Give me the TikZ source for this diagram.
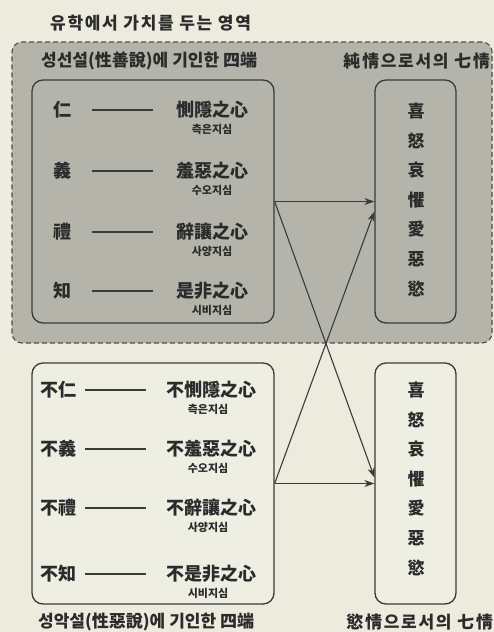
\documentclass[tikz,border=0pt]{standalone}
\usepackage{fontspec}
\setmainfont{Noto Sans CJK KR}
\usetikzlibrary{arrows.meta,calc}
\definecolor{bg}{HTML}{ECEBDE}
\definecolor{zonefill}{HTML}{B5B4AA}
\definecolor{ink}{HTML}{2B2B2B}
\definecolor{edge}{HTML}{3A3A3A}
\definecolor{lowfill}{HTML}{EFEEE3}
\begin{document}
\begin{tikzpicture}[x=1pt,y=-1pt,
  zonebox/.style={draw=edge!90,fill=zonefill,line width=1.1pt,dash pattern=on 5pt off 3pt,rounded corners=10pt,inner sep=0pt},
  box/.style={draw=edge,line width=1.3pt,rounded corners=11pt,inner sep=0pt},
  lbl/.style={font=\fontsize{17}{19}\selectfont\bfseries,text=ink,inner sep=0pt},
  widelbl/.style={font=\fontsize{17}{19}\selectfont\bfseries\addfontfeature{LetterSpace=10},text=ink,inner sep=0pt},
  han/.style={font=\fontsize{18}{20}\selectfont\bfseries,text=ink,inner sep=0pt},
  subtxt/.style={font=\fontsize{11}{13}\selectfont\bfseries,text=ink,inner sep=0pt},
  emo/.style={font=\fontsize{17}{19}\selectfont\bfseries,text=ink,inner sep=0pt},
  rule/.style={draw=edge,line width=1.2pt},
  arr/.style={draw=edge,line width=1.1pt,-{Stealth[length=10pt,width=7pt]}}]
\useasboundingbox[fill=bg] (0,0) rectangle (494,632);
% grey dashed zone
\node[zonebox,minimum width=480pt,minimum height=301pt] (zone) at (252,192.5) {};
% boxes
\node[box,fill=zonefill,minimum width=242pt,minimum height=243pt] (L1) at (153,201.5) {};
\node[box,fill=zonefill,minimum width=81pt,minimum height=243pt] (R1) at (415.5,201.5) {};
\node[box,fill=lowfill,minimum width=242pt,minimum height=241pt] (L2) at (153,483.5) {};
\node[box,fill=lowfill,minimum width=81pt,minimum height=241pt] (R2) at (415.5,483.5) {};
% labels
\node[widelbl,anchor=west] (title) at (50,23) {유학에서 가치를 두는 영역};
\node[lbl,anchor=west] (tl) at (41,61) {성선설(性善說)에 기인한 四端};
\node[widelbl,anchor=east] (tr) at (490,61) {純情으로서의 七情};
\node[lbl,anchor=west] (bl) at (38,622) {성악설(性惡說)에 기인한 四端};
\node[widelbl,anchor=east] (br) at (493,622) {慾情으로서의 七情};
% top rows
\foreach \i/\c/\t/\s/\y in {1/仁/惻隱之心/측은지심/110, 2/義/羞惡之心/수오지심/171, 3/禮/辭讓之心/사양지심/232, 4/知/是非之心/시비지심/291}{
  \node[han] (a\i) at (62,\y) {\c};
  \node[han] (b\i) at (212,\y) {\t};
  \node[subtxt] (s\i) at (212,\y+19) {\s};
  \draw[rule,shorten <=30pt,shorten >=59pt] (a\i.center) -- (b\i.center);
}
% bottom rows
\foreach \i/\c/\t/\s/\y in {1/不仁/不惻隱之心/측은지심/390, 2/不義/不羞惡之心/수오지심/449, 3/不禮/不辭讓之心/사양지심/508, 4/不知/不是非之心/시비지심/574}{
  \node[han] (p\i) at (58,\y) {\c};
  \node[han] (q\i) at (211,\y) {\t};
  \node[subtxt] (r\i) at (208,\y+19) {\s};
  \draw[rule,shorten <=27pt,shorten >=65pt] (p\i.center) -- (q\i.center);
}
% seven emotions
\foreach \i/\c in {0/喜,1/怒,2/哀,3/懼,4/愛,5/惡,6/慾}{
  \node[emo] (e\i) at (416,111+29.6*\i) {\c};
  \node[emo] (f\i) at (416,390+29.6*\i) {\c};
}
% arrows
\draw[arr] (L1.east) -- (R1.west);
\draw[arr] (L1.east) -- ([yshift=6pt]R2.west);
\draw[arr] (L2.east) -- (R2.west);
\draw[arr] (L2.east) -- ([yshift=-10pt]R1.west);
\end{tikzpicture}
\end{document}
